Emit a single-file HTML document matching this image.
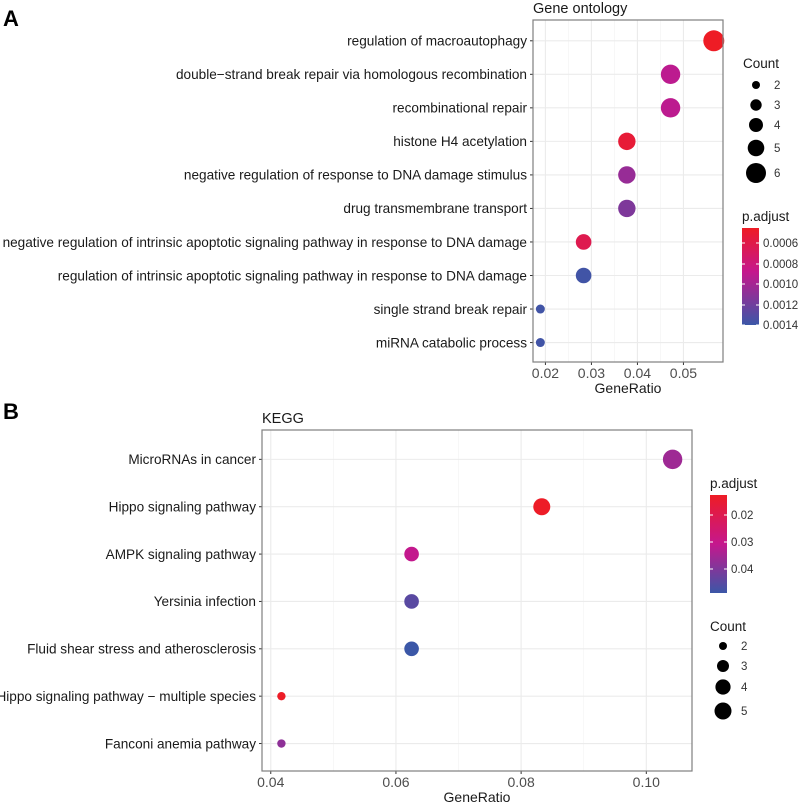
<!DOCTYPE html>
<html><head><meta charset="utf-8"><style>
body{margin:0;background:#fff}
svg{display:block;font-family:"Liberation Sans",Arial,sans-serif}
</style></head><body>
<svg id="c" width="800" height="804" xmlns="http://www.w3.org/2000/svg">
<defs>
<linearGradient id="gA" x1="0" y1="0" x2="0" y2="1"><stop offset="0" stop-color="#ee1c25"/><stop offset="0.45" stop-color="#c5178d"/><stop offset="1" stop-color="#3b57a7"/></linearGradient>
<linearGradient id="gB" x1="0" y1="0" x2="0" y2="1"><stop offset="0" stop-color="#ee1c25"/><stop offset="0.5" stop-color="#c5178d"/><stop offset="1" stop-color="#3b57a7"/></linearGradient>
</defs>
<text x="3" y="26" font-size="22" font-weight="bold">A</text>
<text x="3" y="419" font-size="22" font-weight="bold">B</text>
<g id="A"></g><g id="B"></g>
</svg>
<script>
const goTerms=["regulation of macroautophagy","double\u2212strand break repair via homologous recombination","recombinational repair","histone H4 acetylation","negative regulation of response to DNA damage stimulus","drug transmembrane transport","negative regulation of intrinsic apoptotic signaling pathway in response to DNA damage","regulation of intrinsic apoptotic signaling pathway in response to DNA damage","single strand break repair","miRNA catabolic process"];
const goRatio=[0.0566,0.0472,0.0472,0.0377,0.0377,0.0377,0.0283,0.0283,0.0189,0.0189];
const goCount=[6,5,5,4,4,4,3,3,2,2];
const goP=[0.00052,0.00100,0.00100,0.00060,0.00112,0.00120,0.00070,0.00140,0.00140,0.00140];
const goTicks=[0.02,0.03,0.04,0.05];
const goCountLegend=[2,3,4,5,6];
const goPTicks=["0.0006","0.0008","0.0010","0.0012","0.0014"];
const kTerms=["MicroRNAs in cancer","Hippo signaling pathway","AMPK signaling pathway","Yersinia infection","Fluid shear stress and atherosclerosis","Hippo signaling pathway \u2212 multiple species","Fanconi anemia pathway"];
const kRatio=[0.1042,0.0833,0.0625,0.0625,0.0625,0.0417,0.0417];
const kCount=[5,4,3,3,3,2,2];
const kP=[0.036,0.013,0.031,0.045,0.049,0.013,0.038];
const kTicks=[0.04,0.06,0.08,0.10];
const kCountLegend=[2,3,4,5];
const kPTicks=["0.02","0.03","0.04"];
const NS="http://www.w3.org/2000/svg";
function mk(p,t,a){const e=document.createElementNS(NS,t);for(const k in a)e.setAttribute(k,a[k]);p.appendChild(e);return e;}
function lerp(a,b,t){return a.map((v,i)=>Math.round(v+(b[i]-v)*t));}
function col(t){t=Math.max(0,Math.min(1,t));const r=[238,28,37],m=[197,23,141],b=[59,87,167];const c=t<0.5?lerp(r,m,t/0.5):lerp(m,b,(t-0.5)/0.5);return `rgb(${c})`;}
function panel(g,o){
 const {L,R,T,B,xmin,xmax,terms,ratio,count,p,ticks,pmin,pmax,rad,title,digits}=o;
 const x=v=>L+(v-xmin)/(xmax-xmin)*(R-L);
 const n=terms.length,step=(B-T)/(n+0.2);const y=i=>T+step*0.62+i*step;
 mk(g,'rect',{x:L,y:T,width:R-L,height:B-T,fill:'#fff'});
 for(let i=0;i<ticks.length-1;i++){const mv=(ticks[i]+ticks[i+1])/2;mk(g,'line',{x1:x(mv),x2:x(mv),y1:T,y2:B,stroke:'#f2f2f2','stroke-width':0.6});}
 ticks.forEach(t=>{mk(g,'line',{x1:x(t),x2:x(t),y1:T,y2:B,stroke:'#ebebeb','stroke-width':1.1});
  const tx=mk(g,'text',{x:x(t),y:B+16,'font-size':14,'text-anchor':'middle',fill:'#4d4d4d'});tx.textContent=t.toFixed(digits);
  
  
  mk(g,'line',{x1:x(t),x2:x(t),y1:B,y2:B+3,stroke:'#333'});});
 terms.forEach((s,i)=>{mk(g,'line',{x1:L,x2:R,y1:y(i),y2:y(i),stroke:'#ebebeb','stroke-width':1.1});
  mk(g,'line',{x1:L-3,x2:L,y1:y(i),y2:y(i),stroke:'#333'});
  const tx=mk(g,'text',{x:L-6,y:y(i)+4.8,'font-size':13.6,'text-anchor':'end',fill:'#1a1a1a'});tx.textContent=s;
  
  });
 terms.forEach((s,i)=>{const c=mk(g,'circle',{cx:x(ratio[i]),cy:y(i),r:rad(count[i]),fill:col((p[i]-pmin)/(pmax-pmin))});
  
  });
 mk(g,'rect',{x:L,y:T,width:R-L,height:B-T,fill:'none',stroke:'#7f7f7f','stroke-width':1.2});
 const tt=mk(g,'text',{x:L,y:T-7,'font-size':14.5,fill:'#1a1a1a'});tt.textContent=title;
 
 
 const xl=mk(g,'text',{x:(L+R)/2,y:B+31,'font-size':14,'text-anchor':'middle',fill:'#1a1a1a'});xl.textContent='GeneRatio';
 
 
}
function countLegend(g,lx,ty,vals,ys,rad){
 const t=mk(g,'text',{x:lx,y:ty,'font-size':13.5,fill:'#1a1a1a'});t.textContent='Count';
 
 
 vals.forEach((v,i)=>{mk(g,'circle',{cx:lx+13,cy:ys[i],r:rad(v),fill:'#000'});
  const tx=mk(g,'text',{x:lx+31,y:ys[i]+4,'font-size':11.5,fill:'#333'});tx.textContent=v;
  
  });
}
function colorbar(g,lx,ty,bt,bb,grad,labels,ly){
 const t=mk(g,'text',{x:lx,y:ty,'font-size':13.5,fill:'#1a1a1a'});t.textContent='p.adjust';
 
 
 mk(g,'rect',{x:lx,y:bt,width:17,height:bb-bt,fill:`url(#${grad})`});
 labels.forEach((s,i)=>{mk(g,'line',{x1:lx,x2:lx+3,y1:ly[i],y2:ly[i],stroke:'#fff'});mk(g,'line',{x1:lx+14,x2:lx+17,y1:ly[i],y2:ly[i],stroke:'#fff'});
  const tx=mk(g,'text',{x:lx+21,y:ly[i]+4,'font-size':11.5,fill:'#333'});tx.textContent=s;
  
  });
}
const gA=document.getElementById('A');


const radA=c=>[0,0,4.5,7.8,8.7,9.7,10.5][c];
panel(gA,{L:533,R:723,T:20,B:362,xmin:0.0173,xmax:0.0586,terms:goTerms,ratio:goRatio,count:goCount,p:goP,ticks:goTicks,pmin:0.00052,pmax:0.00142,rad:radA,title:'Gene ontology',digits:2});
countLegend(gA,743,68,goCountLegend,[85,105,125,148,173],c=>[0,0,4,5.7,7,8.3,10][c]);
colorbar(gA,742,221,228,325,'gA',goPTicks,[243,264,284,305,325]);
const gB=document.getElementById('B');


const radB=c=>[0,0,4.2,7.3,8.5,9.7][c];
panel(gB,{L:262,R:692,T:430,B:771,xmin:0.0386,xmax:0.1073,terms:kTerms,ratio:kRatio,count:kCount,p:kP,ticks:kTicks,pmin:0.0126,pmax:0.049,rad:radB,title:'KEGG',digits:2});
colorbar(gB,710,488,495,593,'gB',kPTicks,[515,542,569]);
countLegend(gB,710,631,kCountLegend,[646,666,687,711],c=>[0,0,4,6,7.6,8.5][c]);
</script>
</body></html>
